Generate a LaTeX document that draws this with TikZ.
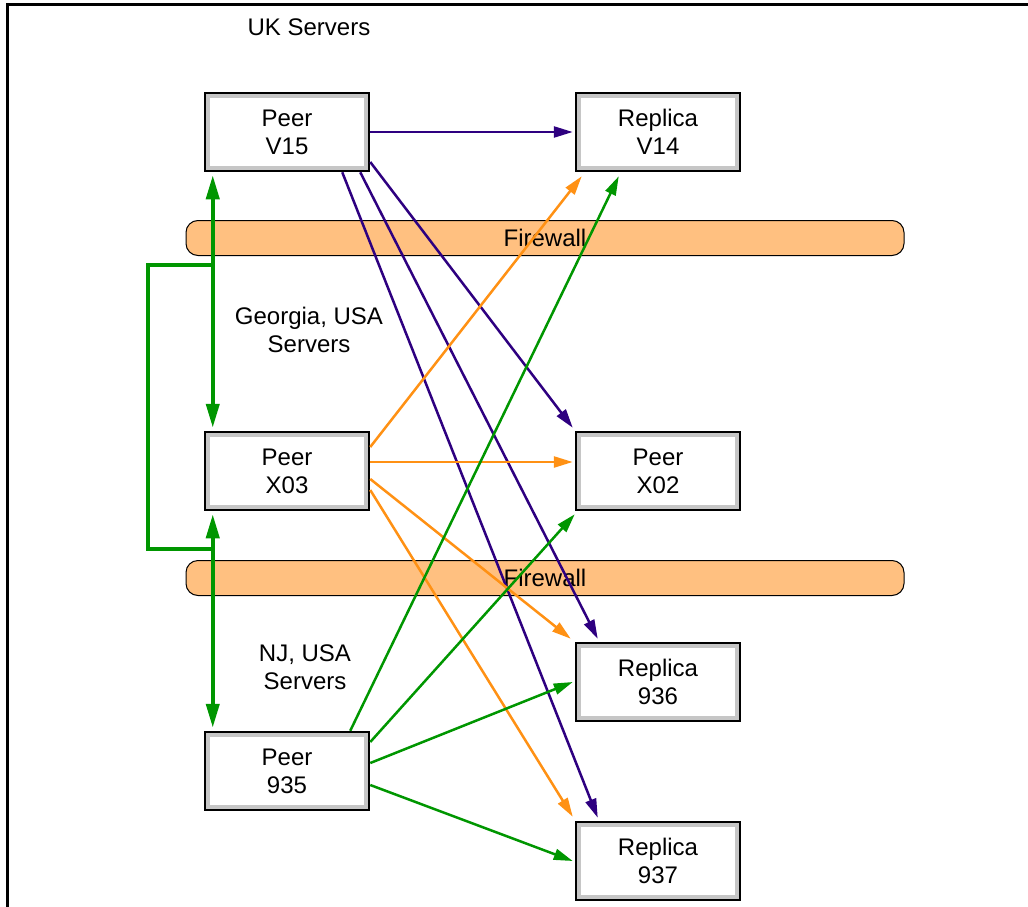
\documentclass[tikz,border=0pt]{standalone}
\usepackage{fontspec}
\setmainfont{Liberation Sans}
\usetikzlibrary{calc,shapes,arrows,arrows.meta,fit,positioning}
\definecolor{fwfill}{RGB}{255,192,128}
\definecolor{ukline}{RGB}{46,0,128}
\definecolor{galine}{RGB}{255,145,20}
\definecolor{njline}{RGB}{0,150,0}

\begin{document}
\begin{tikzpicture}[x=1pt,y=-1pt]
	\tikzstyle{every node}+=[font=\fontsize{24}{28}\selectfont, align=center]
	\tikzstyle{server}=[draw=black, line width=2.5pt, fill=white, minimum width=164pt, minimum height=78pt, inner sep=0pt,
		path picture={\draw [gray!45, line width=10pt] (path picture bounding box.south west) rectangle (path picture bounding box.north east);}]
	\tikzstyle{firewall}=[draw=black, line width=1pt, fill=fwfill, rounded corners=12pt, minimum width=718pt, minimum height=35pt, inner sep=0pt]
	\tikzstyle{link}=[line width=2.5pt, -{Triangle[length=19pt,width=11pt]}]
	\tikzstyle{trunk}=[draw=njline, line width=4pt, {Triangle[length=24pt,width=13pt]}-{Triangle[length=24pt,width=13pt]}]
	\useasboundingbox (0,0) rectangle (1028,907);
	\clip (0,0) rectangle (1028,907);
	\draw [black, line width=3pt] (7,907) -- (7,5) -- (1028,5);

	\node (uk) at (309,27) {UK Servers};
	\node (ga) at (309,330) {Georgia, USA\\Servers};
	\node (nj) at (305,667) {NJ, USA\\Servers};

	\node [firewall] (fw1) at (545,238) {Firewall};
	\node [firewall] (fw2) at (545,578) {Firewall};

	\node [server] (v15) at (287,132) {Peer\\V15};
	\node [server] (v14) at (658,132) {Replica\\V14};
	\node [server] (x03) at (287,471) {Peer\\X03};
	\node [server] (x02) at (658,471) {Peer\\X02};
	\node [server] (p935) at (287,771) {Peer\\935};
	\node [server] (r936) at (658,682) {Replica\\936};
	\node [server] (r937) at (658,861) {Replica\\937};

	\coordinate (lt) at (148,265);
	\coordinate (lb) at (148,549);
	\draw [trunk] ([xshift=9pt,yshift=-3pt]v15.south west) -- ([xshift=9pt,yshift=3pt]x03.north west);
	\draw [trunk] ([xshift=9pt,yshift=-3pt]x03.south west) -- ([xshift=9pt,yshift=3pt]p935.north west);
	\draw [njline, line width=4pt] ([xshift=9pt]v15.south west |- lt) -- (lt) -- (lb) -- ([xshift=9pt]x03.south west |- lb);

	\draw [link, ukline] (v15.east) -- ([xshift=-2pt]v14.west);
	\draw [link, ukline] ([yshift=-30pt]v15.east) -- ([xshift=-2pt,yshift=3pt]x02.north west);
	\draw [link, ukline] ([xshift=-10pt]v15.south east) -- ([xshift=23pt,yshift=3pt]r936.north west);
	\draw [link, ukline] ([xshift=-28pt]v15.south east) -- ([xshift=23pt,yshift=3pt]r937.north west);

	\draw [link, galine] ([yshift=24pt]x03.east) -- ([xshift=7pt,yshift=-4pt]v14.south west);
	\draw [link, galine] ([yshift=9pt]x03.east) -- ([xshift=-2pt,yshift=9pt]x02.west);
	\draw [link, galine] ([yshift=-8pt]x03.east) -- ([xshift=-4pt,yshift=3pt]r936.north west);
	\draw [link, galine] ([yshift=-19pt]x03.east) -- ([xshift=-2pt,yshift=4pt]r937.north west);

	\draw [link, njline] ([xshift=-20pt]p935.north east) -- ([xshift=44pt,yshift=-4pt]v14.south west);
	\draw [link, njline] ([yshift=29pt]p935.east) -- ([yshift=-3pt]x02.south west);
	\draw [link, njline] ([yshift=8pt]p935.east) -- ([xshift=-2pt]r936.west);
	\draw [link, njline] ([yshift=-14pt]p935.east) -- ([xshift=-2pt]r937.west);
\end{tikzpicture}
\end{document}
